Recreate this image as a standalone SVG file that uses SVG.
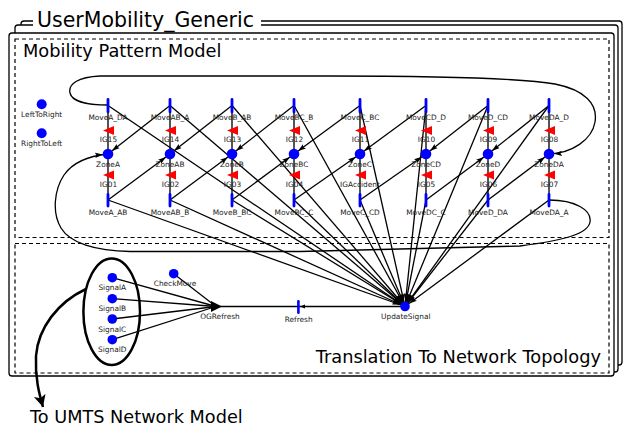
<svg xmlns="http://www.w3.org/2000/svg" width="624" height="426" viewBox="0 0 624 426">
<defs>
<style>
.frame{fill:#fff;stroke:#000;stroke-width:1.3}
.dash{fill:none;stroke:#000;stroke-width:1.2;stroke-dasharray:4,3}
.arc{fill:none;stroke:#000;stroke-width:1.3;marker-end:url(#ah)}
.plain{fill:none;stroke:#000;stroke-width:1.3}
.ig{stroke:#555;stroke-width:2}
.blue{fill:#0000ff}
.gate{fill:#ff0000}
.lbl{font-family:"DejaVu Sans",sans-serif;font-size:7.4px;text-anchor:middle;fill:#222}
.big{font-family:"DejaVu Sans",sans-serif;fill:#000}
</style>
<marker id="ah" markerUnits="userSpaceOnUse" markerWidth="14" markerHeight="6" refX="13" refY="3" orient="auto"><path d="M0,0.4 L8,3 L0,5.6 L1.5,3 z" fill="#000"/></marker>
<marker id="ahs" markerUnits="userSpaceOnUse" markerWidth="8" markerHeight="5" refX="6.5" refY="2.5" orient="auto"><path d="M0,0.5 L5,2.5 L0,4.5 z" fill="#000"/></marker>
<marker id="bigah" markerUnits="userSpaceOnUse" markerWidth="13" markerHeight="13" refX="12" refY="6" orient="auto"><path d="M0,0 L12,6 L0,12 L3,6 z" fill="#000"/></marker>
</defs>
<g id="frames">
<rect class="frame" x="21" y="21" width="601" height="344" rx="3"/>
<rect class="frame" x="15" y="25" width="603" height="347" rx="3"/>
<rect class="frame" x="9" y="33" width="605" height="343" rx="3"/>
<rect x="33" y="6" width="228" height="22" fill="#fff"/>
<text class="big" x="37" y="27" font-size="20.5">UserMobility_Generic</text>
</g>
<g id="Mobility_Pattern_Model">
<rect class="dash" x="15" y="39" width="594" height="198.5"/>
<text class="big" x="23" y="57" font-size="17.8">Mobility Pattern Model</text>
</g>
<g id="Translation_To_Network_Topology">
<rect class="dash" x="15" y="243.5" width="594" height="129.5"/>
<text class="big" x="601" y="363" font-size="17.8" text-anchor="end">Translation To Network Topology</text>
</g>
<g id="connectors">
<line class="ig" x1="108" y1="105" x2="108" y2="200"/>
<line class="ig" x1="170" y1="105" x2="170" y2="200"/>
<line class="ig" x1="232" y1="105" x2="232" y2="200"/>
<line class="ig" x1="294" y1="105" x2="294" y2="200"/>
<line class="ig" x1="360" y1="105" x2="360" y2="200"/>
<line class="ig" x1="426" y1="105" x2="426" y2="200"/>
<line class="ig" x1="488" y1="105" x2="488" y2="200"/>
<line class="ig" x1="549" y1="105" x2="549" y2="200"/>
<line class="arc" x1="170" y1="105.5" x2="108" y2="154"/>
<line class="arc" x1="232" y1="105.5" x2="170" y2="154"/>
<line class="arc" x1="294" y1="105.5" x2="232" y2="154"/>
<line class="arc" x1="360" y1="105.5" x2="294" y2="154"/>
<line class="arc" x1="426" y1="105.5" x2="360" y2="154"/>
<line class="arc" x1="488" y1="105.5" x2="426" y2="154"/>
<line class="arc" x1="549" y1="105.5" x2="488" y2="154"/>
<line class="arc" x1="108" y1="200" x2="170" y2="154"/>
<line class="arc" x1="170" y1="200" x2="232" y2="154"/>
<line class="arc" x1="232" y1="200" x2="294" y2="154"/>
<line class="arc" x1="294" y1="200" x2="360" y2="154"/>
<line class="arc" x1="360" y1="200" x2="426" y2="154"/>
<line class="arc" x1="426" y1="200" x2="488" y2="154"/>
<line class="arc" x1="488" y1="200" x2="549" y2="154"/>
<line class="arc" x1="108" y1="105.5" x2="405" y2="306.5"/>
<line class="arc" x1="170" y1="105.5" x2="405" y2="306.5"/>
<line class="arc" x1="232" y1="105.5" x2="405" y2="306.5"/>
<line class="arc" x1="294" y1="105.5" x2="405" y2="306.5"/>
<line class="arc" x1="360" y1="105.5" x2="405" y2="306.5"/>
<line class="arc" x1="426" y1="105.5" x2="405" y2="306.5"/>
<line class="arc" x1="488" y1="105.5" x2="405" y2="306.5"/>
<line class="arc" x1="549" y1="105.5" x2="405" y2="306.5"/>
<line class="arc" x1="108" y1="200" x2="405" y2="306.5"/>
<line class="arc" x1="170" y1="200" x2="405" y2="306.5"/>
<line class="arc" x1="232" y1="200" x2="405" y2="306.5"/>
<line class="arc" x1="294" y1="200" x2="405" y2="306.5"/>
<line class="arc" x1="360" y1="200" x2="405" y2="306.5"/>
<line class="arc" x1="426" y1="200" x2="405" y2="306.5"/>
<line class="arc" x1="488" y1="200" x2="405" y2="306.5"/>
<line class="arc" x1="549" y1="200" x2="405" y2="306.5"/>
<path class="arc" d="M108,105 C90,105 72,102 70,93 C68,84 78,77 100,76 L330,76 C450,76 520,78 555,84 C585,90 598,104 595,122 C592,140 572,153 549,154"/>
<path class="arc" d="M549,200 C575,200 592,210 590,222 C588,234 565,240 520,246 L300,251.5 L130,251.5 C95,251 70,243 61,228 C52,213 54,190 64,175 C73,162 88,156 108,154"/>
<line class="arc" style="marker-end:url(#ahs)" x1="405" y1="306.5" x2="298.5" y2="306.5"/>
<line class="plain" x1="298.5" y1="306.5" x2="216" y2="306.5"/>
<line class="plain" x1="112.3" y1="277.7" x2="216" y2="306.5"/>
<line class="plain" x1="112.3" y1="298.7" x2="216" y2="306.5"/>
<line class="plain" x1="112.3" y1="319" x2="216" y2="306.5"/>
<line class="plain" x1="112.3" y1="339.7" x2="216" y2="306.5"/>
<line class="plain" x1="173.7" y1="273.7" x2="216" y2="306.5"/>
<path fill="none" stroke="#000" stroke-width="2.5" marker-end="url(#bigah)" d="M86,289 C58,302 38,328 36,356 C35,378 39,393 43,407"/>
</g>
<g id="LeftToRight"><circle class="blue" cx="41.7" cy="104.3" r="5"/><text class="lbl" x="41.7" y="117">LeftToRight</text></g>
<g id="RightToLeft"><circle class="blue" cx="41.7" cy="133.3" r="5"/><text class="lbl" x="41.7" y="146">RightToLeft</text></g>

<g id="MoveA_DA"><rect class="blue" x="106.6" y="98" width="2.8" height="15.5" rx="1.4"/><text class="lbl" x="108" y="119.5">MoveA_DA</text></g>
<g id="IG15"><polygon class="gate" points="103,130.5 114,126 114,135"/><text class="lbl" x="108.5" y="142">IG15</text></g>
<g id="ZoneA"><circle class="blue" cx="108" cy="154" r="5.3"/><text class="lbl" x="108" y="166.8">ZoneA</text></g>
<g id="IG01"><polygon class="gate" points="103,175 114,170.5 114,179.5"/><text class="lbl" x="108.5" y="187">IG01</text></g>
<g id="MoveA_AB"><rect class="blue" x="106.6" y="193" width="2.8" height="14.5" rx="1.4"/><text class="lbl" x="108" y="214.5">MoveA_AB</text></g>

<g id="MoveAB_A"><rect class="blue" x="168.6" y="98" width="2.8" height="15.5" rx="1.4"/><text class="lbl" x="170" y="119.5">MoveAB_A</text></g>
<g id="IG14"><polygon class="gate" points="165,130.5 176,126 176,135"/><text class="lbl" x="170.5" y="142">IG14</text></g>
<g id="ZoneAB"><circle class="blue" cx="170" cy="154" r="5.3"/><text class="lbl" x="170" y="166.8">ZoneAB</text></g>
<g id="IG02"><polygon class="gate" points="165,175 176,170.5 176,179.5"/><text class="lbl" x="170.5" y="187">IG02</text></g>
<g id="MoveAB_B"><rect class="blue" x="168.6" y="193" width="2.8" height="14.5" rx="1.4"/><text class="lbl" x="170" y="214.5">MoveAB_B</text></g>

<g id="MoveB_AB"><rect class="blue" x="230.6" y="98" width="2.8" height="15.5" rx="1.4"/><text class="lbl" x="232" y="119.5">MoveB_AB</text></g>
<g id="IG13"><polygon class="gate" points="227,130.5 238,126 238,135"/><text class="lbl" x="232.5" y="142">IG13</text></g>
<g id="ZoneB"><circle class="blue" cx="232" cy="154" r="5.3"/><text class="lbl" x="232" y="166.8">ZoneB</text></g>
<g id="IG03"><polygon class="gate" points="227,175 238,170.5 238,179.5"/><text class="lbl" x="232.5" y="187">IG03</text></g>
<g id="MoveB_BC"><rect class="blue" x="230.6" y="193" width="2.8" height="14.5" rx="1.4"/><text class="lbl" x="232" y="214.5">MoveB_BC</text></g>

<g id="MoveBC_B"><rect class="blue" x="292.6" y="98" width="2.8" height="15.5" rx="1.4"/><text class="lbl" x="294" y="119.5">MoveBC_B</text></g>
<g id="IG12"><polygon class="gate" points="289,130.5 300,126 300,135"/><text class="lbl" x="294.5" y="142">IG12</text></g>
<g id="ZoneBC"><circle class="blue" cx="294" cy="154" r="5.3"/><text class="lbl" x="294" y="166.8">ZoneBC</text></g>
<g id="IG04"><polygon class="gate" points="289,175 300,170.5 300,179.5"/><text class="lbl" x="294.5" y="187">IG04</text></g>
<g id="MoveBC_C"><rect class="blue" x="292.6" y="193" width="2.8" height="14.5" rx="1.4"/><text class="lbl" x="294" y="214.5">MoveBC_C</text></g>

<g id="MoveC_BC"><rect class="blue" x="358.6" y="98" width="2.8" height="15.5" rx="1.4"/><text class="lbl" x="360" y="119.5">MoveC_BC</text></g>
<g id="IG11"><polygon class="gate" points="355,130.5 366,126 366,135"/><text class="lbl" x="360.5" y="142">IG11</text></g>
<g id="ZoneC"><circle class="blue" cx="360" cy="154" r="5.3"/><text class="lbl" x="360" y="166.8">ZoneC</text></g>
<g id="IGAccident"><polygon class="gate" points="355,175 366,170.5 366,179.5"/><text class="lbl" x="360" y="187">IGAccident</text></g>
<g id="MoveC_CD"><rect class="blue" x="358.6" y="193" width="2.8" height="14.5" rx="1.4"/><text class="lbl" x="360" y="214.5">MoveC_CD</text></g>

<g id="MoveCD_D"><rect class="blue" x="424.6" y="98" width="2.8" height="15.5" rx="1.4"/><text class="lbl" x="426" y="119.5">MoveCD_D</text></g>
<g id="IG10"><polygon class="gate" points="421,130.5 432,126 432,135"/><text class="lbl" x="426.5" y="142">IG10</text></g>
<g id="ZoneCD"><circle class="blue" cx="426" cy="154" r="5.3"/><text class="lbl" x="426" y="166.8">ZoneCD</text></g>
<g id="IG05"><polygon class="gate" points="421,175 432,170.5 432,179.5"/><text class="lbl" x="426.5" y="187">IG05</text></g>
<g id="MoveDC_C"><rect class="blue" x="424.6" y="193" width="2.8" height="14.5" rx="1.4"/><text class="lbl" x="426" y="214.5">MoveDC_C</text></g>

<g id="MoveD_CD"><rect class="blue" x="486.6" y="98" width="2.8" height="15.5" rx="1.4"/><text class="lbl" x="488" y="119.5">MoveD_CD</text></g>
<g id="IG09"><polygon class="gate" points="483,130.5 494,126 494,135"/><text class="lbl" x="488.5" y="142">IG09</text></g>
<g id="ZoneD"><circle class="blue" cx="488" cy="154" r="5.3"/><text class="lbl" x="488" y="166.8">ZoneD</text></g>
<g id="IG06"><polygon class="gate" points="483,175 494,170.5 494,179.5"/><text class="lbl" x="488.5" y="187">IG06</text></g>
<g id="MoveD_DA"><rect class="blue" x="486.6" y="193" width="2.8" height="14.5" rx="1.4"/><text class="lbl" x="488" y="214.5">MoveD_DA</text></g>

<g id="MoveDA_D"><rect class="blue" x="547.6" y="98" width="2.8" height="15.5" rx="1.4"/><text class="lbl" x="549" y="119.5">MoveDA_D</text></g>
<g id="IG08"><polygon class="gate" points="544,130.5 555,126 555,135"/><text class="lbl" x="549.5" y="142">IG08</text></g>
<g id="ZoneDA"><circle class="blue" cx="549" cy="154" r="5.3"/><text class="lbl" x="549" y="166.8">ZoneDA</text></g>
<g id="IG07"><polygon class="gate" points="544,175 555,170.5 555,179.5"/><text class="lbl" x="549.5" y="187">IG07</text></g>
<g id="MoveDA_A"><rect class="blue" x="547.6" y="193" width="2.8" height="14.5" rx="1.4"/><text class="lbl" x="549" y="214.5">MoveDA_A</text></g>

<g id="SignalGroup"><ellipse cx="111.7" cy="311.7" rx="28.3" ry="53.3" fill="none" stroke="#000" stroke-width="2.5"/></g>
<g id="SignalA"><circle class="blue" cx="112.3" cy="277.7" r="4.8"/><text class="lbl" x="112.3" y="290.3">SignalA</text></g>
<g id="SignalB"><circle class="blue" cx="112.3" cy="298.7" r="4.8"/><text class="lbl" x="112.3" y="311">SignalB</text></g>
<g id="SignalC"><circle class="blue" cx="112.3" cy="319" r="4.8"/><text class="lbl" x="112.3" y="331.6">SignalC</text></g>
<g id="SignalD"><circle class="blue" cx="112.3" cy="339.7" r="4.8"/><text class="lbl" x="112.3" y="352">SignalD</text></g>
<g id="CheckMove"><circle class="blue" cx="173.7" cy="273.7" r="4.8"/><text class="lbl" x="175" y="286">CheckMove</text></g>
<g id="OGRefresh"><polygon points="211,301 211,312 222,306.5" fill="#000"/><text class="lbl" x="220" y="319.3">OGRefresh</text></g>
<g id="Refresh"><rect class="blue" x="297.1" y="300" width="2.6" height="14" rx="1.3"/><text class="lbl" x="298.7" y="321.6">Refresh</text></g>
<g id="UpdateSignal"><circle class="blue" cx="405" cy="306.5" r="4.8"/><text class="lbl" x="405.8" y="319.3">UpdateSignal</text></g>
<g id="To_UMTS_Network_Model"><text class="big" x="30" y="423" font-size="17.7">To UMTS Network Model</text></g>
</svg>
